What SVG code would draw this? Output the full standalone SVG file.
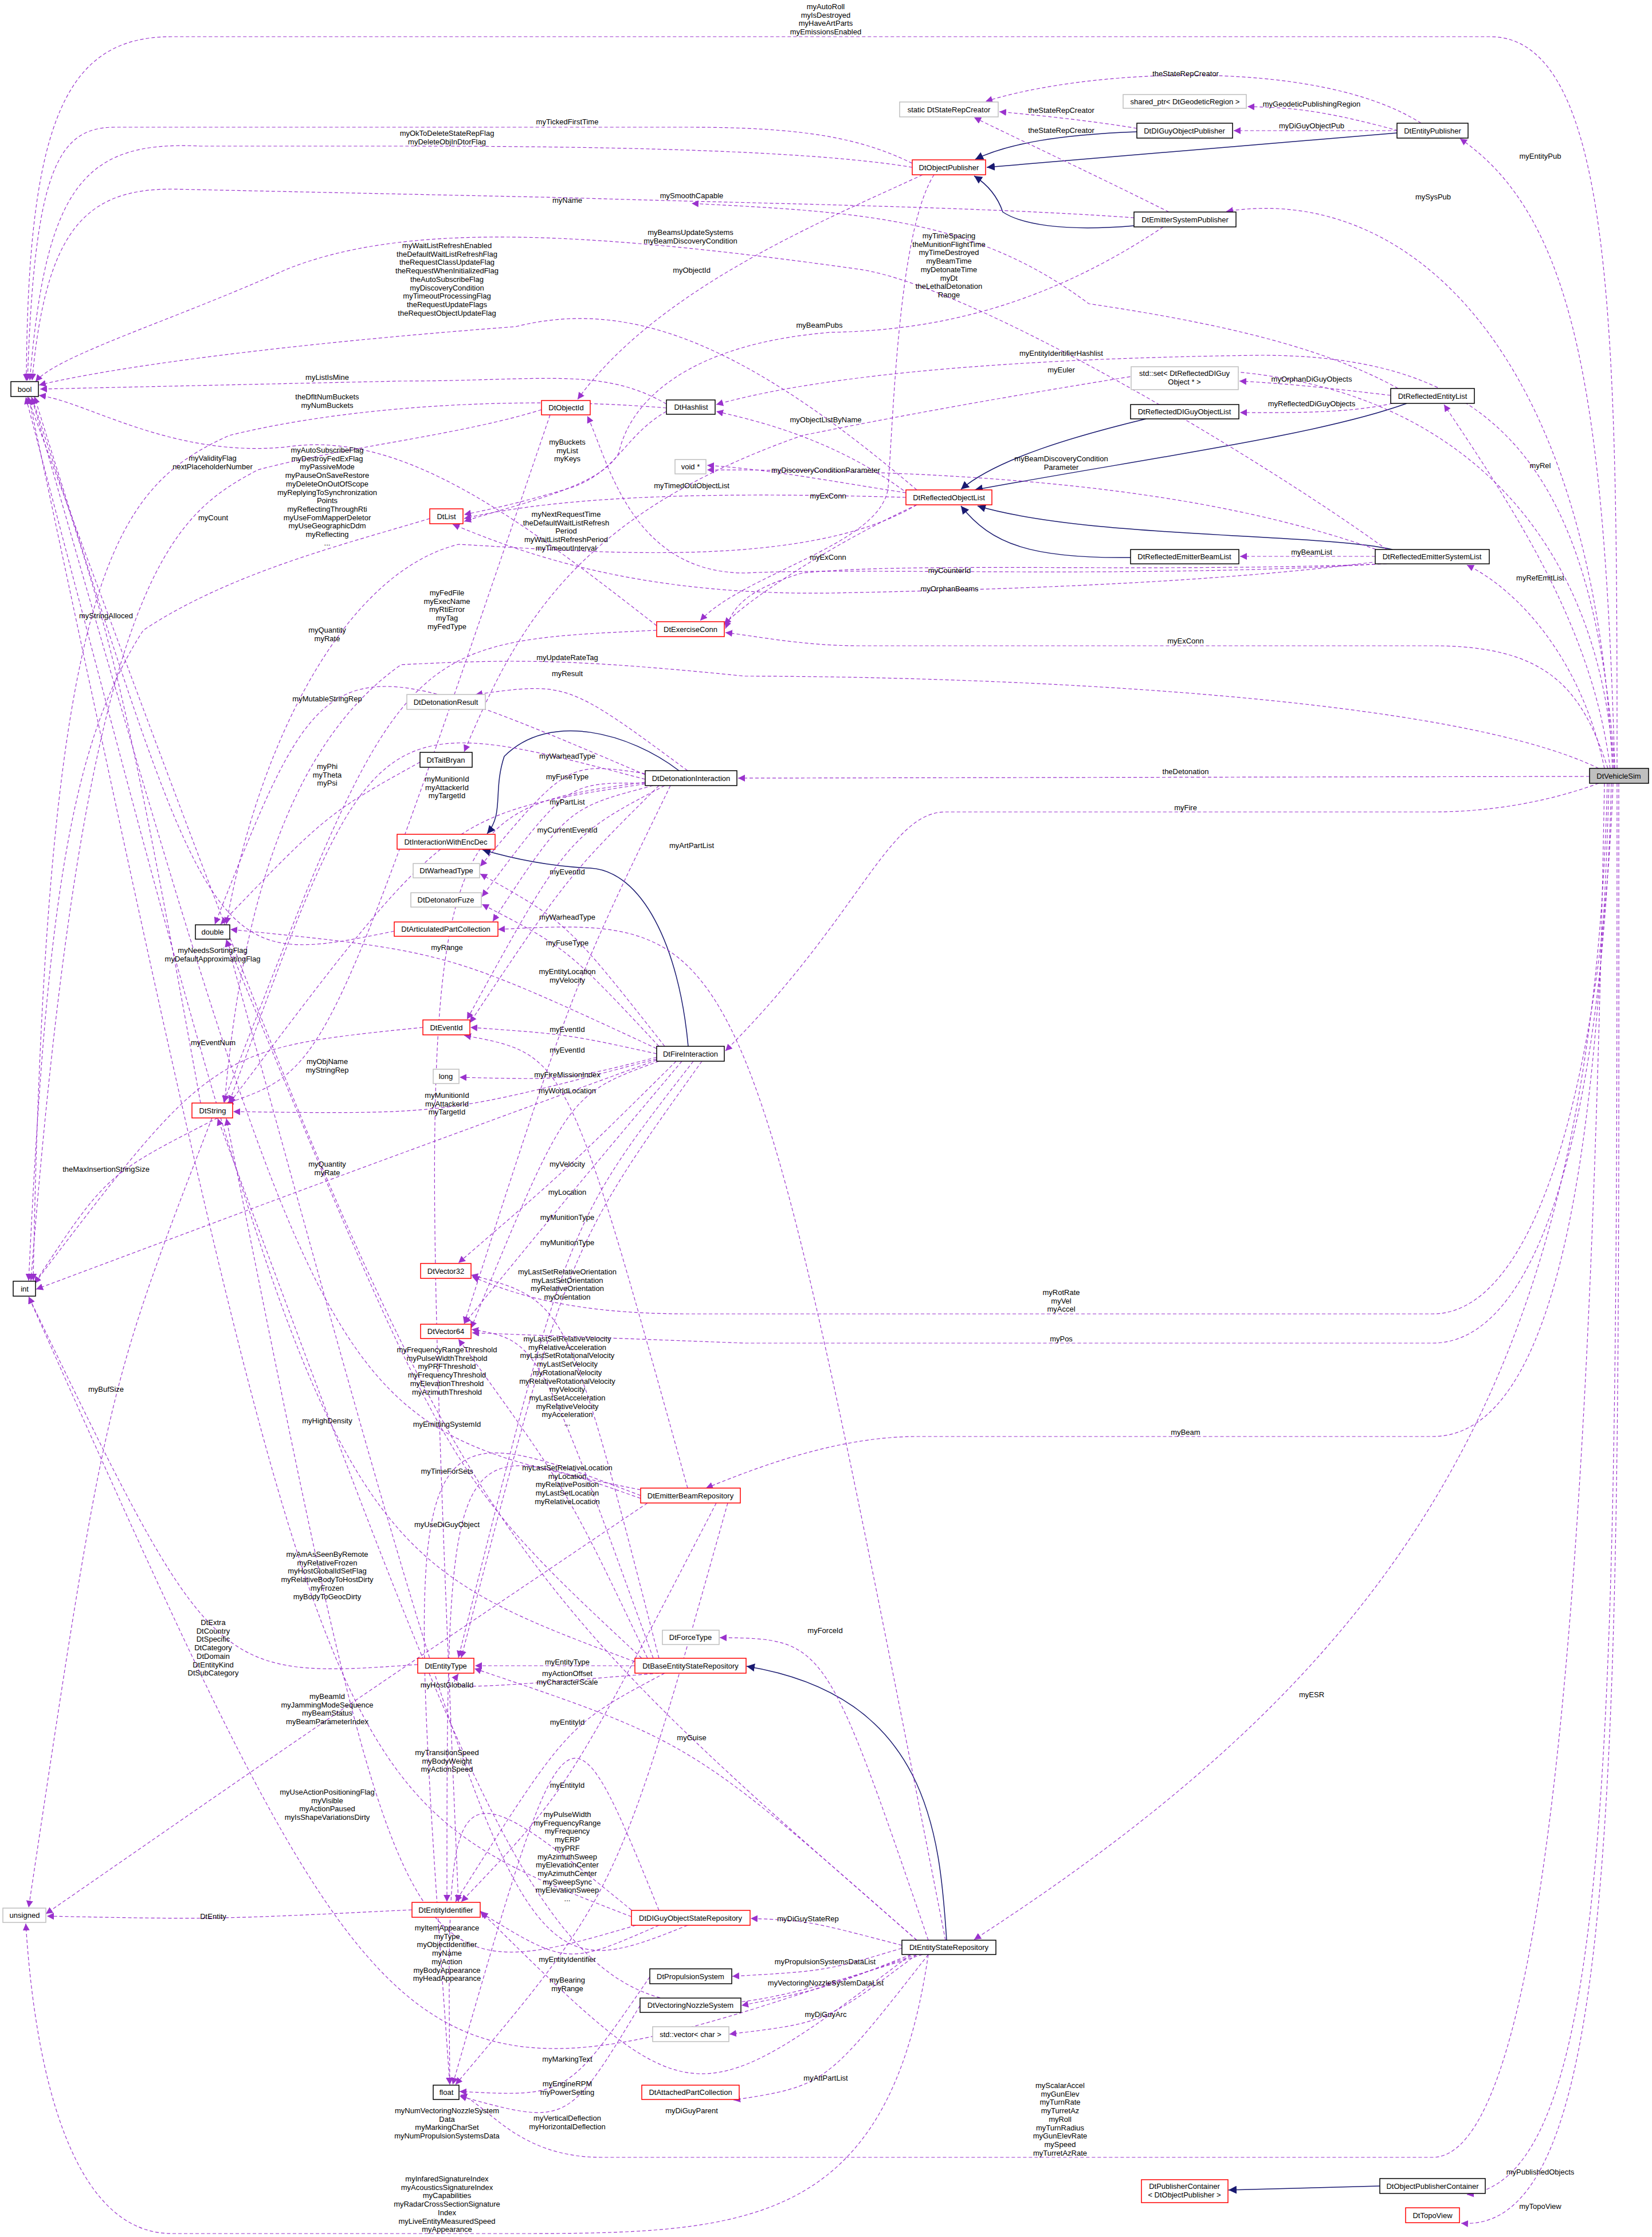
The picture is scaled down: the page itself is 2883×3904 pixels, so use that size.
<svg xmlns="http://www.w3.org/2000/svg" width="2883" height="3904" viewBox="0 0 2883 3904">
<defs>
<marker id="ap" viewBox="0 0 10 10" refX="10" refY="5" markerWidth="12" markerHeight="12" markerUnits="userSpaceOnUse" orient="auto"><path d="M0,0 L10,5 L0,10 z" fill="#9a32cd"/></marker>
<marker id="an" viewBox="0 0 10 10" refX="10" refY="5" markerWidth="14" markerHeight="14" markerUnits="userSpaceOnUse" orient="auto"><path d="M0,0 L10,5 L0,10 z" fill="#191970"/></marker>
<style>
text{font-family:"Liberation Sans",Arial,sans-serif;font-size:13px;fill:#000;text-anchor:middle}
.n rect{fill:#fff;stroke:#000;stroke-width:1.5}
.r rect{fill:#fff;stroke:#ff0000;stroke-width:1.5}
.g rect{fill:#fff;stroke:#bfbfbf;stroke-width:1.5}
.d{fill:none;stroke:#9a32cd;stroke-width:1.2;stroke-dasharray:6,4;marker-end:url(#ap)}
.i{fill:none;stroke:#191970;stroke-width:1.5;marker-end:url(#an)}
</style>
</defs>
<rect width="2883" height="3904" fill="#fff"/>
<g id="connectors">
<path class="i" d="M1984,230 C1850,235 1760,250 1702,278"/>
<path class="i" d="M2438,232 L1722,292"/>
<path class="i" d="M1979,394 C1850,405 1780,390 1750,370 C1740,340 1720,320 1700,307"/>
<path class="i" d="M2000,731 C1880,760 1740,800 1677,854"/>
<path class="i" d="M2455,704 C2300,760 2000,800 1701,855"/>
<path class="i" d="M1973,973 C1800,975 1730,950 1677,883"/>
<path class="i" d="M2430,959 C2300,930 1900,940 1706,883"/>
<path class="i" d="M1185,1345 C1100,1280 960,1240 880,1320 C860,1380 880,1420 850,1455"/>
<path class="i" d="M1201,1826 C1185,1650 1120,1520 1030,1515 C960,1512 900,1500 842,1483"/>
<path class="i" d="M1652,3386 C1640,3200 1620,2960 1303,2908"/>
<path class="i" d="M2408,3815 L2144,3822"/>

<path class="d" d="M2822,1341 C2822,600 2820,64 2600,64 L300,64 C120,64 48,200 46,665"/>
<path class="d" d="M2818,1341 C2800,700 2750,380 2548,242"/>
<path class="d" d="M2814,1341 C2780,600 2450,320 2140,369"/>
<path class="d" d="M2810,1341 C2780,1100 2650,900 2520,706"/>
<path class="d" d="M2800,1341 C2760,1150 2650,1030 2560,986"/>
<path class="d" d="M2806,1341 C2760,1200 2700,1127 2500,1127 L1500,1127 C1400,1127 1320,1110 1266,1104"/>
<path class="d" d="M2774,1355 L1288,1358"/>
<path class="d" d="M2790,1367 C2700,1400 2600,1417 2500,1417 L1650,1417 C1550,1417 1500,1600 1266,1834"/>
<path class="d" d="M2815,1367 C2800,1800 2700,2293 2500,2293 L1200,2293 C1000,2293 900,2260 824,2228"/>
<path class="d" d="M2812,1367 C2800,1900 2700,2344 2500,2344 L1300,2344 L824,2326"/>
<path class="d" d="M2808,1367 C2790,2000 2720,2507 2500,2507 L1600,2507 C1450,2507 1300,2570 1232,2597"/>
<path class="d" d="M2805,1367 C2780,2400 2450,2900 1700,3385"/>
<path class="d" d="M2800,1367 C2780,2500 2720,3765 2500,3765 L1050,3765 C900,3765 850,3670 803,3656"/>
<path class="d" d="M2822,1367 C2822,3000 2820,3800 2560,3830"/>
<path class="d" d="M2825,1367 C2825,3000 2840,3900 2550,3880"/>
<path class="d" d="M1620,3411 C1550,3890 1300,3898 900,3898 L300,3898 C120,3898 60,3600 45,3357"/>

<path class="d" d="M2440,228 C2300,190 2250,188 2177,186"/>
<path class="d" d="M2438,228 L2153,228"/>
<path class="d" d="M2480,215 C2300,100 1900,120 1720,177"/>
<path class="d" d="M1984,224 C1900,210 1800,200 1744,195"/>
<path class="d" d="M2040,370 C1900,300 1750,230 1700,205"/>
<path class="d" d="M2427,690 C2300,675 2250,670 2163,665"/>
<path class="d" d="M2430,704 C2350,722 2250,720 2164,720"/>
<path class="d" d="M2400,971 L2164,971"/>
<path class="d" d="M1592,285 C1500,240 1400,222 1200,222 L200,222 C100,222 60,300 48,664"/>
<path class="d" d="M1592,292 C1400,260 1000,255 700,255 L350,255 C150,245 80,320 52,664"/>
<path class="d" d="M1979,380 C1700,360 1300,355 990,345 L300,330 C150,330 80,400 56,664"/>
<path class="d" d="M2440,678 C2300,600 2100,560 1900,530 C1700,380 1500,370 1207,355"/>
<path class="d" d="M2420,959 C2200,800 1700,500 1500,470 C1000,400 700,390 500,470 C300,560 100,620 62,666"/>
<path class="d" d="M1610,305 C1450,380 1150,500 1008,697"/>
<path class="d" d="M1600,855 C1300,600 1100,520 900,570 C500,600 200,640 68,672"/>
<path class="d" d="M1163,705 C1050,640 950,665 700,665 L70,679"/>
<path class="d" d="M1163,712 C900,690 600,710 400,760 C200,850 80,1000 58,2235"/>
<path class="d" d="M1163,718 C1090,760 1080,820 1000,850 C900,880 850,890 810,898"/>
<path class="d" d="M945,715 C800,760 600,780 450,820 C300,900 150,1000 54,2235"/>
<path class="d" d="M1146,1092 C900,900 700,750 500,780 C300,800 150,700 68,690"/>
<path class="d" d="M750,905 C600,950 400,1000 250,1100 C120,1300 80,1600 50,2235"/>
<path class="d" d="M1600,881 C1400,1000 1000,960 800,950 C600,1000 450,1300 395,1613"/>
<path class="d" d="M1581,868 C1300,860 1000,860 810,905"/>
<path class="d" d="M1581,860 C1450,840 1350,820 1234,812"/>
<path class="d" d="M2410,962 C2100,850 1700,820 1234,820"/>
<path class="d" d="M1585,862 C1450,760 1300,730 1250,718"/>
<path class="d" d="M1600,881 C1450,950 1300,1050 1264,1090"/>
<path class="d" d="M2420,984 C2000,1000 1600,980 1400,1000 C1300,1030 1280,1060 1266,1097"/>
<path class="d" d="M2410,984 C2000,1010 1500,990 1300,1000 C1100,1000 1060,800 1025,726"/>
<path class="d" d="M2405,980 C2100,1020 1700,1030 1450,1035 C1100,1040 900,960 790,915"/>
<path class="d" d="M2030,396 C1800,550 1600,577 1450,580 C1200,600 1100,700 1080,790 C1050,850 900,880 810,910"/>
<path class="d" d="M1630,305 C1570,400 1560,700 1550,850 C1540,950 1300,1000 1222,1083"/>
<path class="d" d="M2818,1341 C2780,800 2600,620 2200,620 C1800,625 1450,650 1250,706"/>
<path class="d" d="M2816,1341 C2790,900 2500,640 2050,645 C1700,700 1500,740 1400,760 C1000,900 900,1100 810,1312"/>

<path class="d" d="M350,1925 C200,1090 185,1090 56,694"/>
<path class="d" d="M1146,1100 C700,1120 700,1120 390,1924"/>
<path class="d" d="M1126,1352 C571,1115 571,1115 375,1613"/>
<path class="d" d="M2790,1341 C2500,1200 1600,1180 1300,1180 C1000,1150 900,1150 700,1160 C500,1300 420,1600 392,1924"/>
<path class="d" d="M1200,1345 C990,1190 990,1190 830,1212"/>
<path class="d" d="M1126,1360 C650,1235 650,1235 400,1924"/>
<path class="d" d="M733,1330 C571,1420 571,1420 385,1613"/>
<path class="d" d="M1126,1350 C990,1330 990,1330 838,1512"/>
<path class="d" d="M1126,1365 C720,1420 720,1420 800,3319"/>
<path class="d" d="M1126,1367 C990,1365 990,1365 841,1565"/>
<path class="d" d="M1140,1371 C990,1410 990,1410 860,1608"/>
<path class="d" d="M1160,1371 C990,1460 990,1460 815,1779"/>
<path class="d" d="M1650,3386 C1300,1600 1300,1600 869,1622"/>
<path class="d" d="M1150,1371 C990,1530 990,1530 820,1785"/>
<path class="d" d="M1160,1826 C990,1610 990,1610 838,1525"/>
<path class="d" d="M1150,1826 C990,1655 990,1655 841,1578"/>
<path class="d" d="M688,1625 C371,1690 371,1690 60,692"/>
<path class="d" d="M1146,1830 C780,1660 780,1660 402,1622"/>
<path class="d" d="M1170,1371 C1000,1720 1000,1720 810,2310"/>
<path class="d" d="M1146,1839 C990,1805 990,1805 821,1793"/>
<path class="d" d="M738,1793 C372,1830 372,1830 60,2240"/>
<path class="d" d="M1200,2597 C990,1840 990,1840 810,1807"/>
<path class="d" d="M960,724 C571,1865 571,1865 395,1926"/>
<path class="d" d="M1146,1845 C990,1885 990,1885 802,1880"/>
<path class="d" d="M1150,1852 C990,1910 990,1910 822,2318"/>
<path class="d" d="M1146,1848 C780,1945 780,1945 407,1940"/>
<path class="d" d="M1126,1368 C780,1420 780,1420 400,1926"/>
<path class="d" d="M380,1951 C185,2050 185,2050 60,2240"/>
<path class="d" d="M1146,1850 C571,2060 571,2060 63,2250"/>
<path class="d" d="M1180,1852 C990,2040 990,2040 800,2204"/>
<path class="d" d="M1190,1852 C990,2090 990,2090 810,2310"/>
<path class="d" d="M1210,1852 C990,2135 990,2135 800,2893"/>
<path class="d" d="M1225,1852 C990,2180 990,2180 805,2893"/>
<path class="d" d="M1150,2894 C990,2270 990,2270 822,2225"/>
<path class="d" d="M1140,2894 C940,2340 940,2340 823,2320"/>
<path class="d" d="M1118,2610 C700,2450 700,2450 785,3638"/>
<path class="d" d="M370,1951 C185,2430 185,2430 50,3329"/>
<path class="d" d="M1118,2600 C571,2490 571,2490 55,693"/>
<path class="d" d="M1118,2615 C780,2495 780,2495 780,3319"/>
<path class="d" d="M1120,2894 C780,2577 780,2577 395,1640"/>
<path class="d" d="M1130,2894 C990,2600 990,2600 800,2337"/>
<path class="d" d="M1600,3386 C780,2670 780,2670 48,693"/>
<path class="d" d="M1108,2900 C571,2700 571,2700 45,693"/>
<path class="d" d="M729,2905 C372,2930 372,2930 50,2263"/>
<path class="d" d="M1108,2907 L829,2907"/>
<path class="d" d="M1150,3334 C990,2940 990,2940 790,3638"/>
<path class="d" d="M1150,2920 C780,2950 780,2950 800,2921"/>
<path class="d" d="M1620,3386 C1440,2860 1440,2860 1256,2858"/>
<path class="d" d="M1130,2623 C571,3000 571,3000 80,3340"/>
<path class="d" d="M1600,3386 C1207,3040 1207,3040 828,2912"/>
<path class="d" d="M1160,2920 C990,3010 990,3010 795,3319"/>
<path class="d" d="M1110,3340 C780,3070 780,3070 785,3638"/>
<path class="d" d="M1102,3345 C571,3140 571,3140 50,693"/>
<path class="d" d="M1250,2623 C990,3125 990,3125 805,3319"/>
<path class="d" d="M1270,2623 C1080,3300 1080,3300 795,3638"/>
<path class="d" d="M719,3333 C372,3350 372,3350 82,3344"/>
<path class="d" d="M1110,3360 C700,3480 700,3480 395,1952"/>
<path class="d" d="M1574,3395 C1410,3352 1410,3352 1310,3348"/>
<path class="d" d="M1150,3360 C990,3430 990,3430 839,3338"/>
<path class="d" d="M1574,3400 C1440,3440 1440,3440 1278,3449"/>
<path class="d" d="M1200,3360 C900,3480 900,3480 395,1640"/>
<path class="d" d="M1590,3411 C1441,3470 1441,3470 1294,3500"/>
<path class="d" d="M1600,3411 C1441,3530 1441,3530 1273,3550"/>
<path class="d" d="M1610,3411 C990,3605 990,3605 380,1952"/>
<path class="d" d="M1620,3411 C1441,3640 1441,3640 1280,3665"/>
<path class="d" d="M1134,3450 C990,3660 990,3660 802,3650"/>
<path class="d" d="M1600,3411 C700,3720 700,3720 50,2263"/>
<path class="d" d="M1590,3411 C1207,3700 1207,3700 838,3335"/>
<path class="d" d="M1117,3500 C990,3710 990,3710 802,3658"/>
</g>

<g id="labels">
<text x="1441" y="16">myAutoRoll<tspan x="1441" dy="14.7">myIsDestroyed</tspan><tspan x="1441" dy="14.7">myHaveArtParts</tspan><tspan x="1441" dy="14.7">myEmissionsEnabled</tspan></text>
<text x="990" y="217">myTickedFirstTime</text>
<text x="780" y="237">myOkToDeleteStateRepFlag<tspan x="780" dy="14.7">myDeleteObjInDtorFlag</tspan></text>
<text x="990" y="354">myName</text>
<text x="1207" y="346">mySmoothCapable</text>
<text x="1205" y="410">myBeamsUpdateSystems<tspan x="1205" dy="14.7">myBeamDiscoveryCondition</tspan></text>
<text x="1207" y="476">myObjectId</text>
<text x="780" y="433">myWaitListRefreshEnabled<tspan x="780" dy="14.7">theDefaultWaitListRefreshFlag</tspan><tspan x="780" dy="14.7">theRequestClassUpdateFlag</tspan><tspan x="780" dy="14.7">theRequestWhenInitializedFlag</tspan><tspan x="780" dy="14.7">theAutoSubscribeFlag</tspan><tspan x="780" dy="14.7">myDiscoveryCondition</tspan><tspan x="780" dy="14.7">myTimeoutProcessingFlag</tspan><tspan x="780" dy="14.7">theRequestUpdateFlags</tspan><tspan x="780" dy="14.7">theRequestObjectUpdateFlag</tspan></text>
<text x="571" y="663">myListIsMine</text>
<text x="571" y="697">theDfltNumBuckets<tspan x="571" dy="14.7">myNumBuckets</tspan></text>
<text x="990" y="776">myBuckets<tspan x="990" dy="14.7">myList</tspan><tspan x="990" dy="14.7">myKeys</tspan></text>
<text x="371" y="804">myValidityFlag<tspan x="371" dy="14.7">nextPlaceholderNumber</tspan></text>
<text x="571" y="790">myAutoSubscribeFlag<tspan x="571" dy="14.7">myDestroyFedExFlag</tspan><tspan x="571" dy="14.7">myPassiveMode</tspan><tspan x="571" dy="14.7">myPauseOnSaveRestore</tspan><tspan x="571" dy="14.7">myDeleteOnOutOfScope</tspan><tspan x="571" dy="14.7">myReplyingToSynchronization</tspan><tspan x="571" dy="14.7">Points</tspan><tspan x="571" dy="14.7">myReflectingThroughRti</tspan><tspan x="571" dy="14.7">myUseFomMapperDeletor</tspan><tspan x="571" dy="14.7">myUseGeographicDdm</tspan><tspan x="571" dy="14.7">myReflecting</tspan><tspan x="571" dy="14.7">...</tspan></text>
<text x="372" y="908">myCount</text>
<text x="988" y="902">myNextRequestTime<tspan x="988" dy="14.7">theDefaultWaitListRefresh</tspan><tspan x="988" dy="14.7">Period</tspan><tspan x="988" dy="14.7">myWaitListRefreshPeriod</tspan><tspan x="988" dy="14.7">myTimeoutInterval</tspan></text>
<text x="1207" y="852">myTimedOutObjectList</text>
<text x="1441" y="825">myDiscoveryConditionParameter</text>
<text x="1445" y="870">myExConn</text>
<text x="1445" y="977">myExConn</text>
<text x="1441" y="737">myObjectListByName</text>
<text x="1852" y="650">myEuler</text>
<text x="1852" y="621">myEntityIdentifierHashlist</text>
<text x="1430" y="572">myBeamPubs</text>
<text x="1656" y="416">myTimeSpacing<tspan x="1656" dy="14.7">theMunitionFlightTime</tspan><tspan x="1656" dy="14.7">myTimeDestroyed</tspan><tspan x="1656" dy="14.7">myBeamTime</tspan><tspan x="1656" dy="14.7">myDetonateTime</tspan><tspan x="1656" dy="14.7">myDt</tspan><tspan x="1656" dy="14.7">theLethalDetonation</tspan><tspan x="1656" dy="14.7">Range</tspan></text>
<text x="2069" y="133">theStateRepCreator</text>
<text x="1852" y="197">theStateRepCreator</text>
<text x="1852" y="232">theStateRepCreator</text>
<text x="2289" y="186">myGeodeticPublishingRegion</text>
<text x="2289" y="224">myDiGuyObjectPub</text>
<text x="2688" y="277">myEntityPub</text>
<text x="2501" y="348">mySysPub</text>
<text x="2289" y="666">myOrphanDiGuyObjects</text>
<text x="2289" y="709">myReflectedDiGuyObjects</text>
<text x="1852" y="805">myBeamDiscoveryCondition<tspan x="1852" dy="14.7">Parameter</tspan></text>
<text x="2688" y="817">myRel</text>
<text x="2289" y="968">myBeamList</text>
<text x="1657" y="1000">myCounterId</text>
<text x="1657" y="1032">myOrphanBeams</text>
<text x="2688" y="1013">myRefEmitList</text>
<text x="2069" y="1123">myExConn</text>
<text x="2069" y="1351">theDetonation</text>
<text x="2069" y="1414">myFire</text>

<text x="185" y="1079">myStringAlloced</text>
<text x="780" y="1039">myFedFile<tspan x="780" dy="14.7">myExecName</tspan><tspan x="780" dy="14.7">myRtiError</tspan><tspan x="780" dy="14.7">myTag</tspan><tspan x="780" dy="14.7">myFedType</tspan></text>
<text x="571" y="1104">myQuantity<tspan x="571" dy="14.7">myRate</tspan></text>
<text x="990" y="1152">myUpdateRateTag</text>
<text x="990" y="1180">myResult</text>
<text x="571" y="1224">myMutableStringRep</text>
<text x="571" y="1342">myPhi<tspan x="571" dy="14.7">myTheta</tspan><tspan x="571" dy="14.7">myPsi</tspan></text>
<text x="990" y="1324">myWarheadType</text>
<text x="780" y="1364">myMunitionId<tspan x="780" dy="14.7">myAttackerId</tspan><tspan x="780" dy="14.7">myTargetId</tspan></text>
<text x="990" y="1360">myFuseType</text>
<text x="990" y="1404">myPartList</text>
<text x="990" y="1453">myCurrentEventId</text>
<text x="1207" y="1480">myArtPartList</text>
<text x="990" y="1526">myEventId</text>
<text x="990" y="1605">myWarheadType</text>
<text x="990" y="1650">myFuseType</text>
<text x="371" y="1663">myNeedsSortingFlag<tspan x="371" dy="14.7">myDefaultApproximatingFlag</tspan></text>
<text x="780" y="1658">myRange</text>
<text x="990" y="1700">myEntityLocation<tspan x="990" dy="14.7">myVelocity</tspan></text>
<text x="990" y="1801">myEventId</text>
<text x="372" y="1824">myEventNum</text>
<text x="990" y="1837">myEventId</text>
<text x="571" y="1857">myObjName<tspan x="571" dy="14.7">myStringRep</tspan></text>
<text x="990" y="1880">myFireMissionIndex</text>
<text x="990" y="1908">myWorldLocation</text>
<text x="780" y="1916">myMunitionId<tspan x="780" dy="14.7">myAttackerId</tspan><tspan x="780" dy="14.7">myTargetId</tspan></text>

<text x="185" y="2045">theMaxInsertionStringSize</text>
<text x="571" y="2036">myQuantity<tspan x="571" dy="14.7">myRate</tspan></text>
<text x="990" y="2036">myVelocity</text>
<text x="990" y="2085">myLocation</text>
<text x="990" y="2129">myMunitionType</text>
<text x="990" y="2173">myMunitionType</text>
<text x="990" y="2224">myLastSetRelativeOrientation<tspan x="990" dy="14.7">myLastSetOrientation</tspan><tspan x="990" dy="14.7">myRelativeOrientation</tspan><tspan x="990" dy="14.7">myOrientation</tspan></text>
<text x="990" y="2341">myLastSetRelativeVelocity<tspan x="990" dy="14.7">myRelativeAcceleration</tspan><tspan x="990" dy="14.7">myLastSetRotationalVelocity</tspan><tspan x="990" dy="14.7">myLastSetVelocity</tspan><tspan x="990" dy="14.7">myRotationalVelocity</tspan><tspan x="990" dy="14.7">myRelativeRotationalVelocity</tspan><tspan x="990" dy="14.7">myVelocity</tspan><tspan x="990" dy="14.7">myLastSetAcceleration</tspan><tspan x="990" dy="14.7">myRelativeVelocity</tspan><tspan x="990" dy="14.7">myAcceleration</tspan><tspan x="990" dy="14.7">...</tspan></text>
<text x="780" y="2360">myFrequencyRangeThreshold<tspan x="780" dy="14.7">myPulseWidthThreshold</tspan><tspan x="780" dy="14.7">myPRFThreshold</tspan><tspan x="780" dy="14.7">myFrequencyThreshold</tspan><tspan x="780" dy="14.7">myElevationThreshold</tspan><tspan x="780" dy="14.7">myAzimuthThreshold</tspan></text>
<text x="185" y="2429">myBufSize</text>
<text x="571" y="2484">myHighDensity</text>
<text x="780" y="2490">myEmittingSystemId</text>
<text x="780" y="2572">myTimeForSets</text>
<text x="990" y="2566">myLastSetRelativeLocation<tspan x="990" dy="14.7">myLocation</tspan><tspan x="990" dy="14.7">myRelativePosition</tspan><tspan x="990" dy="14.7">myLastSetLocation</tspan><tspan x="990" dy="14.7">myRelativeLocation</tspan></text>
<text x="780" y="2665">myUseDiGuyObject</text>
<text x="571" y="2717">myAmAsSeenByRemote<tspan x="571" dy="14.7">myRelativeFrozen</tspan><tspan x="571" dy="14.7">myHostGlobalIdSetFlag</tspan><tspan x="571" dy="14.7">myRelativeBodyToHostDirty</tspan><tspan x="571" dy="14.7">myFrozen</tspan><tspan x="571" dy="14.7">myBodyToGeocDirty</tspan></text>
<text x="372" y="2836">DtExtra<tspan x="372" dy="14.7">DtCountry</tspan><tspan x="372" dy="14.7">DtSpecific</tspan><tspan x="372" dy="14.7">DtCategory</tspan><tspan x="372" dy="14.7">DtDomain</tspan><tspan x="372" dy="14.7">DtEntityKind</tspan><tspan x="372" dy="14.7">DtSubCategory</tspan></text>
<text x="990" y="2905">myEntityType</text>
<text x="990" y="2925">myActionOffset<tspan x="990" dy="14.7">myCharacterScale</tspan></text>
<text x="780" y="2945">myHostGlobalId</text>
<text x="1440" y="2850">myForceId</text>
<text x="571" y="2965">myBeamId<tspan x="571" dy="14.7">myJammingModeSequence</tspan><tspan x="571" dy="14.7">myBeamStatus</tspan><tspan x="571" dy="14.7">myBeamParameterIndex</tspan></text>
<text x="1207" y="3037">myGuise</text>
<text x="990" y="3010">myEntityId</text>
<text x="1852" y="2260">myRotRate<tspan x="1852" dy="14.7">myVel</tspan><tspan x="1852" dy="14.7">myAccel</tspan></text>
<text x="1852" y="2341">myPos</text>
<text x="2069" y="2504">myBeam</text>
<text x="2289" y="2962">myESR</text>

<text x="780" y="3063">myTransitionSpeed<tspan x="780" dy="14.7">myBodyWeight</tspan><tspan x="780" dy="14.7">myActionSpeed</tspan></text>
<text x="571" y="3132">myUseActionPositioningFlag<tspan x="571" dy="14.7">myVisible</tspan><tspan x="571" dy="14.7">myActionPaused</tspan><tspan x="571" dy="14.7">myIsShapeVariationsDirty</tspan></text>
<text x="990" y="3120">myEntityId</text>
<text x="990" y="3171">myPulseWidth<tspan x="990" dy="14.7">myFrequencyRange</tspan><tspan x="990" dy="14.7">myFrequency</tspan><tspan x="990" dy="14.7">myERP</tspan><tspan x="990" dy="14.7">myPRF</tspan><tspan x="990" dy="14.7">myAzimuthSweep</tspan><tspan x="990" dy="14.7">myElevationCenter</tspan><tspan x="990" dy="14.7">myAzimuthCenter</tspan><tspan x="990" dy="14.7">mySweepSync</tspan><tspan x="990" dy="14.7">myElevationSweep</tspan><tspan x="990" dy="14.7">...</tspan></text>
<text x="372" y="3349">DtEntity</text>
<text x="780" y="3369">myItemAppearance<tspan x="780" dy="14.7">myType</tspan><tspan x="780" dy="14.7">myObjectIdentifier</tspan><tspan x="780" dy="14.7">myName</tspan><tspan x="780" dy="14.7">myAction</tspan><tspan x="780" dy="14.7">myBodyAppearance</tspan><tspan x="780" dy="14.7">myHeadAppearance</tspan></text>
<text x="1410" y="3353">myDiGuyStateRep</text>
<text x="990" y="3424">myEntityIdentifier</text>
<text x="1440" y="3428">myPropulsionSystemsDataList</text>
<text x="990" y="3460">myBearing<tspan x="990" dy="14.7">myRange</tspan></text>
<text x="1441" y="3465">myVectoringNozzleSystemDataList</text>
<text x="1441" y="3520">myDiGuyArc</text>
<text x="990" y="3598">myMarkingText</text>
<text x="1441" y="3631">myAttPartList</text>
<text x="990" y="3641">myEngineRPM<tspan x="990" dy="14.7">myPowerSetting</tspan></text>
<text x="780" y="3688">myNumVectoringNozzleSystem<tspan x="780" dy="14.7">Data</tspan><tspan x="780" dy="14.7">myMarkingCharSet</tspan><tspan x="780" dy="14.7">myNumPropulsionSystemsData</tspan></text>
<text x="1207" y="3688">myDiGuyParent</text>
<text x="990" y="3701">myVerticalDeflection<tspan x="990" dy="14.7">myHorizontalDeflection</tspan></text>
<text x="780" y="3807">myInfaredSignatureIndex<tspan x="780" dy="14.7">myAcousticsSignatureIndex</tspan><tspan x="780" dy="14.7">myCapabilities</tspan><tspan x="780" dy="14.7">myRadarCrossSectionSignature</tspan><tspan x="780" dy="14.7">Index</tspan><tspan x="780" dy="14.7">myLiveEntityMeasuredSpeed</tspan><tspan x="780" dy="14.7">myAppearance</tspan></text>
<text x="1850" y="3644">myScalarAccel<tspan x="1850" dy="14.7">myGunElev</tspan><tspan x="1850" dy="14.7">myTurnRate</tspan><tspan x="1850" dy="14.7">myTurretAz</tspan><tspan x="1850" dy="14.7">myRoll</tspan><tspan x="1850" dy="14.7">myTurnRadius</tspan><tspan x="1850" dy="14.7">myGunElevRate</tspan><tspan x="1850" dy="14.7">mySpeed</tspan><tspan x="1850" dy="14.7">myTurretAzRate</tspan></text>
<text x="2688" y="3795">myPublishedObjects</text>
<text x="2688" y="3855">myTopoView</text>
</g>

<g id="bool" class="n"><rect x="19" y="666" width="48" height="26"/><text x="43" y="684">bool</text></g>
<g id="double" class="n"><rect x="341" y="1614" width="60" height="25"/><text x="371" y="1631">double</text></g>
<g id="int" class="n"><rect x="23" y="2236" width="39" height="26"/><text x="43" y="2254">int</text></g>
<g id="unsigned" class="g"><rect x="5" y="3330" width="75" height="25"/><text x="43" y="3347">unsigned</text></g>
<g id="float" class="n"><rect x="756" y="3639" width="45" height="25"/><text x="779" y="3656">float</text></g>
<g id="DtString" class="r"><rect x="335" y="1925" width="71" height="26"/><text x="371" y="1943">DtString</text></g>
<g id="DtObjectId" class="r"><rect x="945" y="699" width="85" height="25"/><text x="988" y="716">DtObjectId</text></g>
<g id="DtHashlist" class="n"><rect x="1163" y="698" width="85" height="25"/><text x="1206" y="715">DtHashlist</text></g>
<g id="DtList" class="r"><rect x="750" y="888" width="58" height="26"/><text x="779" y="906">DtList</text></g>
<g id="void" class="g"><rect x="1178" y="802" width="54" height="25"/><text x="1205" y="819">void *</text></g>
<g id="StateRepCreator" class="g"><rect x="1570" y="178" width="172" height="26"/><text x="1656" y="196">static DtStateRepCreator</text></g>
<g id="sharedptr" class="g"><rect x="1960" y="165" width="215" height="24"/><text x="2068" y="182">shared_ptr&lt; DtGeodeticRegion &gt;</text></g>
<g id="DtDIGuyObjectPublisher" class="n"><rect x="1984" y="215" width="167" height="26"/><text x="2067" y="233">DtDIGuyObjectPublisher</text></g>
<g id="DtEntityPublisher" class="n"><rect x="2438" y="215" width="124" height="26"/><text x="2500" y="233">DtEntityPublisher</text></g>
<g id="DtObjectPublisher" class="r"><rect x="1592" y="279" width="128" height="26"/><text x="1656" y="297">DtObjectPublisher</text></g>
<g id="DtEmitterSystemPublisher" class="n"><rect x="1979" y="370" width="178" height="26"/><text x="2068" y="388">DtEmitterSystemPublisher</text></g>
<g id="stdset" class="g"><rect x="1974" y="640" width="187" height="40"/><text x="2067" y="656">std::set&lt; DtReflectedDIGuy<tspan x="2067" dy="15">Object * &gt;</tspan></text></g>
<g id="DtReflectedEntityList" class="n"><rect x="2427" y="678" width="146" height="26"/><text x="2500" y="696">DtReflectedEntityList</text></g>
<g id="DtReflectedDIGuyObjectList" class="n"><rect x="1973" y="706" width="189" height="25"/><text x="2067" y="723">DtReflectedDIGuyObjectList</text></g>
<g id="DtReflectedObjectList" class="r"><rect x="1581" y="855" width="150" height="26"/><text x="1656" y="873">DtReflectedObjectList</text></g>
<g id="DtReflectedEmitterBeamList" class="n"><rect x="1973" y="959" width="189" height="25"/><text x="2067" y="976">DtReflectedEmitterBeamList</text></g>
<g id="DtReflectedEmitterSystemList" class="n"><rect x="2400" y="959" width="199" height="25"/><text x="2499" y="976">DtReflectedEmitterSystemList</text></g>
<g id="DtExerciseConn" class="r"><rect x="1146" y="1085" width="118" height="26"/><text x="1205" y="1103">DtExerciseConn</text></g>
<g id="DtDetonationResult" class="g"><rect x="710" y="1212" width="137" height="26"/><text x="778" y="1230">DtDetonationResult</text></g>
<g id="DtTaitBryan" class="n"><rect x="733" y="1313" width="91" height="26"/><text x="778" y="1331">DtTaitBryan</text></g>
<g id="DtDetonationInteraction" class="n"><rect x="1126" y="1345" width="160" height="26"/><text x="1206" y="1363">DtDetonationInteraction</text></g>
<g id="DtInteractionWithEncDec" class="r"><rect x="693" y="1456" width="171" height="26"/><text x="778" y="1474">DtInteractionWithEncDec</text></g>
<g id="DtWarheadType" class="g"><rect x="721" y="1507" width="116" height="25"/><text x="779" y="1524">DtWarheadType</text></g>
<g id="DtDetonatorFuze" class="g"><rect x="717" y="1558" width="123" height="25"/><text x="778" y="1575">DtDetonatorFuze</text></g>
<g id="DtArticulatedPartCollection" class="r"><rect x="688" y="1609" width="181" height="25"/><text x="778" y="1626">DtArticulatedPartCollection</text></g>
<g id="DtEventId" class="r"><rect x="738" y="1780" width="82" height="26"/><text x="779" y="1798">DtEventId</text></g>
<g id="DtFireInteraction" class="n"><rect x="1146" y="1826" width="118" height="26"/><text x="1205" y="1844">DtFireInteraction</text></g>
<g id="long" class="g"><rect x="756" y="1866" width="45" height="25"/><text x="778" y="1883">long</text></g>
<g id="DtVector32" class="r"><rect x="734" y="2205" width="88" height="26"/><text x="778" y="2223">DtVector32</text></g>
<g id="DtVector64" class="r"><rect x="734" y="2311" width="88" height="25"/><text x="778" y="2328">DtVector64</text></g>
<g id="DtEmitterBeamRepository" class="r"><rect x="1118" y="2597" width="174" height="26"/><text x="1205" y="2615">DtEmitterBeamRepository</text></g>
<g id="DtForceType" class="g"><rect x="1156" y="2845" width="99" height="25"/><text x="1205" y="2862">DtForceType</text></g>
<g id="DtEntityType" class="r"><rect x="729" y="2894" width="98" height="26"/><text x="778" y="2912">DtEntityType</text></g>
<g id="DtBaseEntityStateRepository" class="r"><rect x="1108" y="2894" width="194" height="26"/><text x="1205" y="2912">DtBaseEntityStateRepository</text></g>
<g id="DtEntityIdentifier" class="r"><rect x="719" y="3320" width="119" height="26"/><text x="778" y="3338">DtEntityIdentifier</text></g>
<g id="DtDIGuyObjectStateRepository" class="r"><rect x="1102" y="3334" width="207" height="26"/><text x="1205" y="3352">DtDIGuyObjectStateRepository</text></g>
<g id="DtPropulsionSystem" class="n"><rect x="1134" y="3436" width="143" height="26"/><text x="1205" y="3454">DtPropulsionSystem</text></g>
<g id="DtVectoringNozzleSystem" class="n"><rect x="1117" y="3487" width="176" height="25"/><text x="1205" y="3504">DtVectoringNozzleSystem</text></g>
<g id="stdvector" class="g"><rect x="1139" y="3537" width="133" height="26"/><text x="1205" y="3555">std::vector&lt; char &gt;</text></g>
<g id="DtAttachedPartCollection" class="r"><rect x="1120" y="3639" width="170" height="25"/><text x="1205" y="3656">DtAttachedPartCollection</text></g>
<g id="DtEntityStateRepository" class="n"><rect x="1574" y="3386" width="164" height="25"/><text x="1656" y="3403">DtEntityStateRepository</text></g>
<g id="DtPublisherContainer" class="r"><rect x="1992" y="3804" width="151" height="40"/><text x="2067" y="3820">DtPublisherContainer<tspan x="2067" dy="15">&lt; DtObjectPublisher &gt;</tspan></text></g>
<g id="DtObjectPublisherContainer" class="n"><rect x="2408" y="3802" width="184" height="26"/><text x="2500" y="3820">DtObjectPublisherContainer</text></g>
<g id="DtTopoView" class="r"><rect x="2453" y="3853" width="94" height="26"/><text x="2500" y="3871">DtTopoView</text></g>
<g id="DtVehicleSim" class="n"><rect x="2774" y="1341" width="103" height="26" style="fill:#bfbfbf"/><text x="2825" y="1359">DtVehicleSim</text></g>
</svg>
